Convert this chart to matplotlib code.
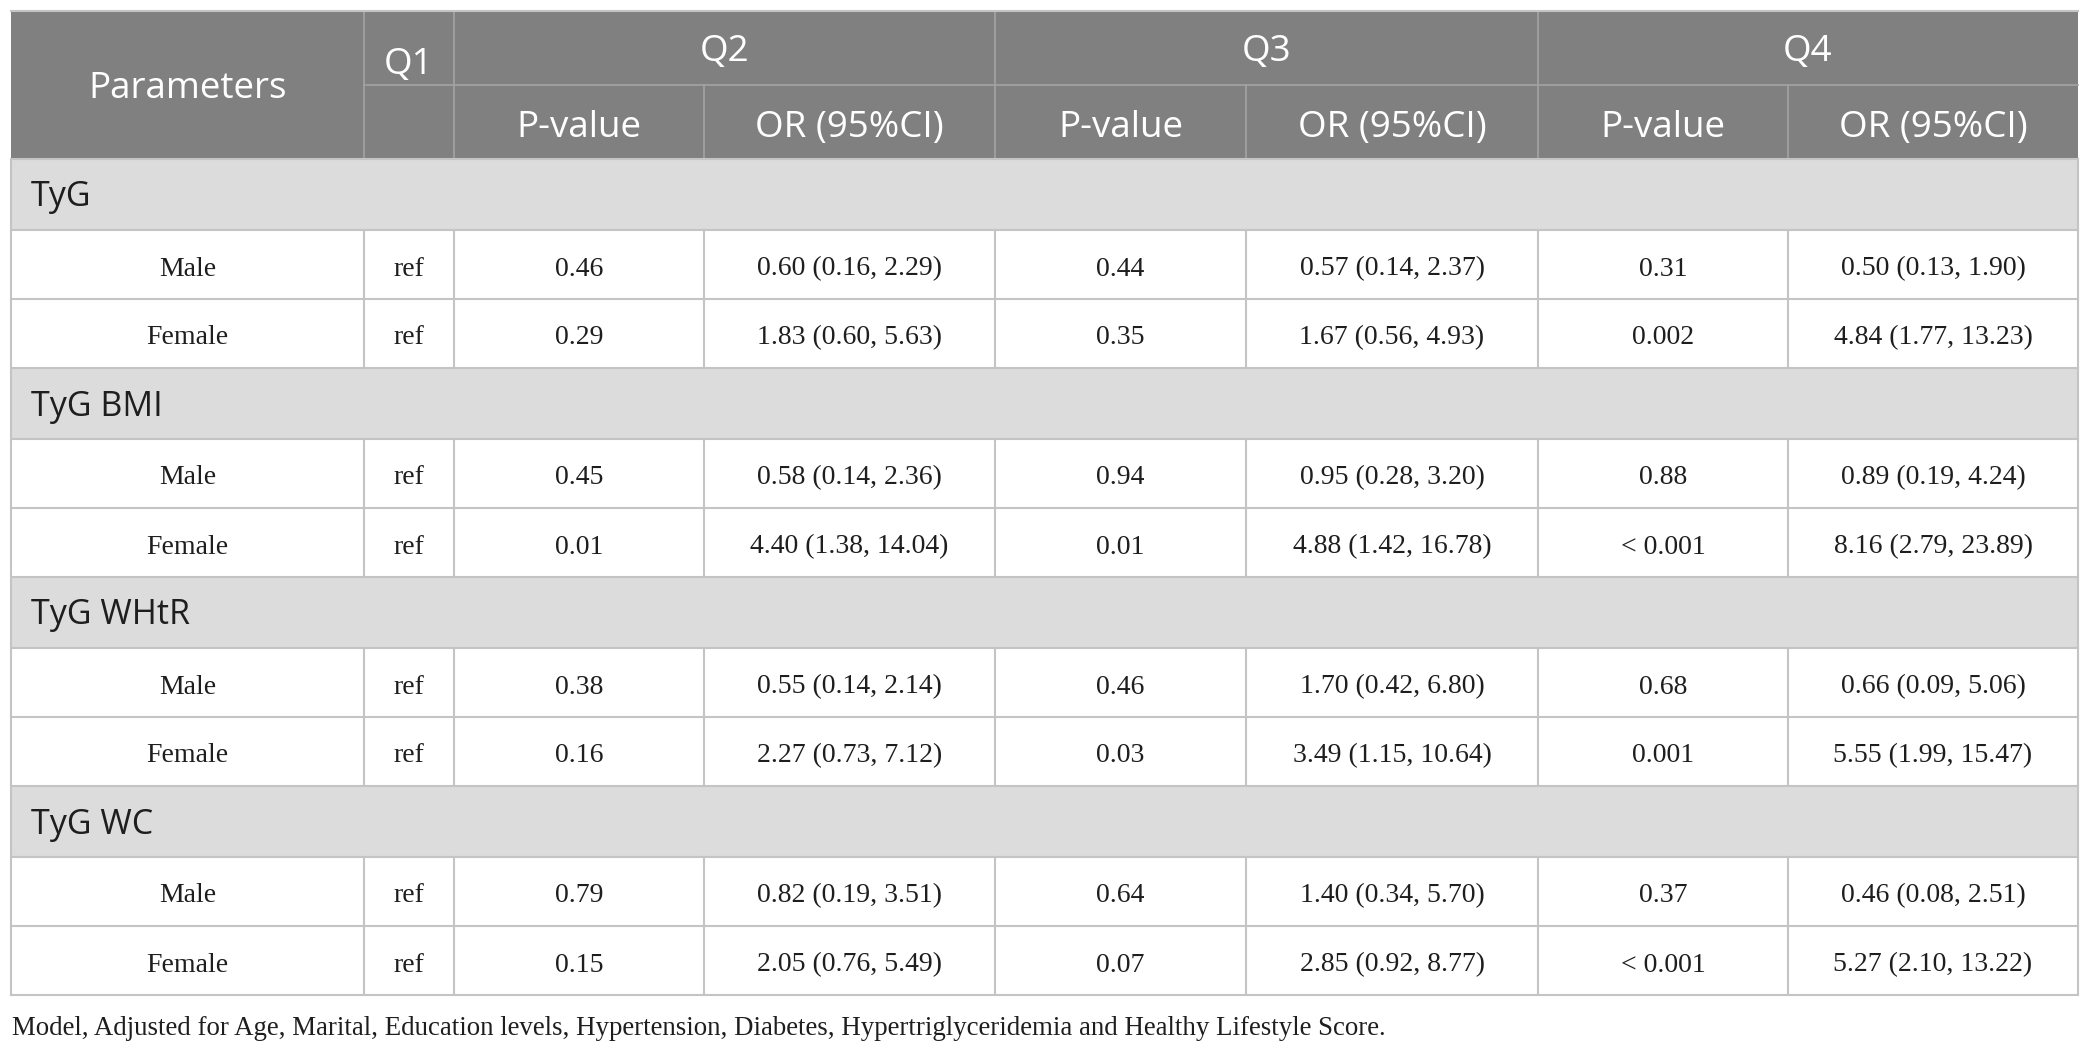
import matplotlib
matplotlib.use("Agg")
import matplotlib.pyplot as plt
from matplotlib.patches import Rectangle

# table content
groups = ["TyG", "TyG BMI", "TyG WHtR", "TyG WC"]
sexes = ["Male", "Female"]
q1_ref = "ref"

q2_p = [["0.46", "0.29"], ["0.45", "0.01"], ["0.38", "0.16"], ["0.79", "0.15"]]
q2_or = [["0.60 (0.16, 2.29)", "1.83 (0.60, 5.63)"],
         ["0.58 (0.14, 2.36)", "4.40 (1.38, 14.04)"],
         ["0.55 (0.14, 2.14)", "2.27 (0.73, 7.12)"],
         ["0.82 (0.19, 3.51)", "2.05 (0.76, 5.49)"]]
q3_p = [["0.44", "0.35"], ["0.94", "0.01"], ["0.46", "0.03"], ["0.64", "0.07"]]
q3_or = [["0.57 (0.14, 2.37)", "1.67 (0.56, 4.93)"],
         ["0.95 (0.28, 3.20)", "4.88 (1.42, 16.78)"],
         ["1.70 (0.42, 6.80)", "3.49 (1.15, 10.64)"],
         ["1.40 (0.34, 5.70)", "2.85 (0.92, 8.77)"]]
q4_p = [["0.31", "0.002"], ["0.88", "< 0.001"], ["0.68", "0.001"], ["0.37", "< 0.001"]]
q4_or = [["0.50 (0.13, 1.90)", "4.84 (1.77, 13.23)"],
         ["0.89 (0.19, 4.24)", "8.16 (2.79, 23.89)"],
         ["0.66 (0.09, 5.06)", "5.55 (1.99, 15.47)"],
         ["0.46 (0.08, 2.51)", "5.27 (2.10, 13.22)"]]

quartiles = ["Q2", "Q3", "Q4"]
sub_heads = ["P-value", "OR (95%CI)"]
footnote = ("Model, Adjusted for Age, Marital, Education levels, Hypertension, "
            "Diabetes, Hypertriglyceridemia and Healthy Lifestyle Score.")

# layout in pixels
W, H = 2089, 1051
col_x = [11, 364, 454, 704, 995, 1246, 1538, 1788, 2078]
top, h1, h2 = 11, 85, 159
grp_h, row_h = 71, 69

head_col = "#808080"
grp_col = "#dcdcdc"
line_col = "#c4c4c4"
head_line = "#a3a3a3"
txt_col = "#1e1e1e"
sans = "Open Sans"
serif = "Liberation Serif"
head_fs, grp_fs, cell_fs, foot_fs = 26.5, 24.5, 20, 19.4

fig = plt.figure(figsize=(W / 100, H / 100), dpi=100)
ax = fig.add_axes([0, 0, 1, 1])
ax.set_xlim(0, W)
ax.set_ylim(H, 0)
ax.axis("off")

# header block
ax.add_patch(Rectangle((col_x[0], top), col_x[-1] - col_x[0], h2 - top,
                       facecolor=head_col, edgecolor="none"))
ax.plot([col_x[1], col_x[-1]], [h1, h1], color=head_line, lw=1.2)
for i, x in enumerate(col_x[1:-1], start=1):
    if i in (3, 5, 7):
        ax.plot([x, x], [h1, h2], color=head_line, lw=1.2)
    else:
        ax.plot([x, x], [top, h2], color=head_line, lw=1.2)

ax.text((col_x[0] + col_x[1]) / 2, 98, "Parameters", color="white",
        fontsize=head_fs, family=sans, ha="center", va="baseline")
ax.text((col_x[1] + col_x[2]) / 2, 74, "Q1", color="white",
        fontsize=head_fs, family=sans, ha="center", va="baseline")
for k, q in enumerate(quartiles):
    x0, x1 = col_x[2 + 2 * k], col_x[4 + 2 * k]
    ax.text((x0 + x1) / 2, 61, q, color="white",
            fontsize=head_fs, family=sans, ha="center", va="baseline")
    for j, s in enumerate(sub_heads):
        xa, xb = col_x[2 + 2 * k + j], col_x[3 + 2 * k + j]
        ax.text((xa + xb) / 2, 137, s, color="white",
                fontsize=head_fs, family=sans, ha="center", va="baseline")

# body
y = h2
for g, name in enumerate(groups):
    ax.add_patch(Rectangle((col_x[0], y), col_x[-1] - col_x[0], grp_h,
                           facecolor=grp_col, edgecolor="none"))
    ax.text(31, y + 47.5, name, fontsize=grp_fs, family=sans,
            color=txt_col, ha="left", va="baseline")
    ax.plot([col_x[0], col_x[-1]], [y, y], color=line_col, lw=1.5)
    y += grp_h
    for s, sex in enumerate(sexes):
        ax.plot([col_x[0], col_x[-1]], [y, y], color=line_col, lw=1.5)
        cells = [sex, q1_ref, q2_p[g][s], q2_or[g][s], q3_p[g][s],
                 q3_or[g][s], q4_p[g][s], q4_or[g][s]]
        for c, txt in enumerate(cells):
            ax.text((col_x[c] + col_x[c + 1]) / 2, y + 45.5, txt,
                    fontsize=cell_fs, family=serif, color=txt_col,
                    ha="center", va="baseline")
        for x in col_x[1:-1]:
            ax.plot([x, x], [y, y + row_h], color=line_col, lw=1.5)
        y += row_h
ax.plot([col_x[0], col_x[-1]], [y, y], color=line_col, lw=1.5)

# outer border of body
ax.plot([col_x[0], col_x[0]], [h2, y], color=line_col, lw=1.5)
ax.plot([col_x[-1], col_x[-1]], [h2, y], color=line_col, lw=1.5)
ax.plot([col_x[0], col_x[-1]], [top, top], color=line_col, lw=1.5)

ax.text(12, 1035, footnote, fontsize=foot_fs, family=serif, color=txt_col,
        ha="left", va="baseline")

fig.savefig("out.png", dpi=100)
